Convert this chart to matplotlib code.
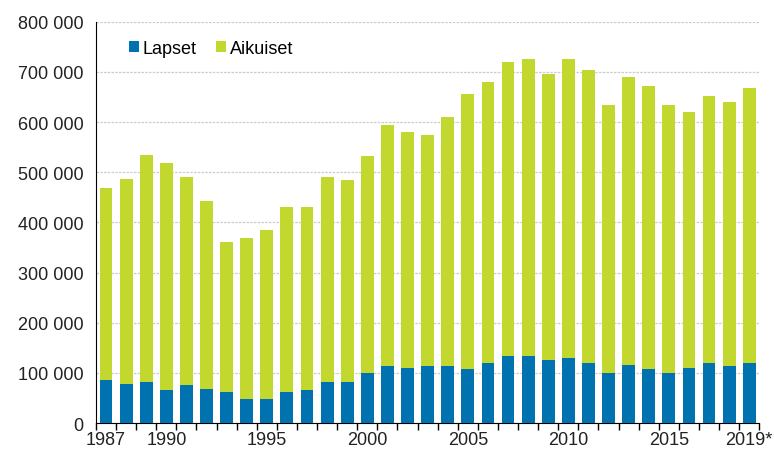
import matplotlib.pyplot as plt
import numpy as np
from matplotlib.ticker import FuncFormatter, FixedLocator

plt.rcParams['font.family'] = ['Liberation Sans', 'DejaVu Sans']

years = [str(y) for y in range(1987, 2019)] + ['2019*']
lapset = [85000, 78000, 82000, 65000, 75000, 68000, 62000, 48000, 48000, 62000,
          65000, 82000, 82000, 100000, 114000, 110000, 114000, 114000, 107000, 120000,
          133000, 133000, 126000, 130000, 120000, 100000, 116000, 107000, 100000, 110000,
          120000, 114000, 120000]
totals = [468000, 487000, 535000, 519000, 490000, 442000, 362000, 368000, 384000, 430000,
          430000, 490000, 484000, 532000, 595000, 580000, 574000, 611000, 656000, 679000,
          720000, 726000, 695000, 726000, 704000, 634000, 689000, 673000, 634000, 621000,
          653000, 640000, 669000]
aikuiset = [t - c for t, c in zip(totals, lapset)]
shown_labels = ['1987', '1990', '1995', '2000', '2005', '2010', '2015', '2019*']

blue = '#0072b0'
green = '#c3d82e'

fig = plt.figure(figsize=(7.74, 4.56), dpi=100)
ax = fig.add_axes([0.124, 0.070, 0.857, 0.880])

x = np.arange(len(years))
ax.bar(x, lapset, width=0.64, color=blue, label='Lapset', zorder=3)
ax.bar(x, aikuiset, width=0.64, bottom=lapset, color=green, label='Aikuiset', zorder=3)

ax.set_xlim(-0.5, len(years) - 0.5)
ax.set_ylim(0, 800000)
ax.set_yticks(np.arange(0, 800001, 100000))
ax.yaxis.set_major_formatter(FuncFormatter(lambda v, p: f'{int(v):,}'.replace(',', ' ')))
ax.tick_params(axis='y', length=0, labelsize=13, colors='#222222', pad=9)

# labels under selected bars, ticks at category boundaries
pos = [years.index(l) for l in shown_labels]
ax.set_xticks(pos)
ax.set_xticklabels(shown_labels)
ax.xaxis.set_minor_locator(FixedLocator(np.arange(-0.5, len(years), 1.0)))
ax.tick_params(axis='x', which='major', length=0, labelsize=13, colors='#222222', pad=6)
ax.tick_params(axis='x', which='minor', length=5, width=1, color='black', direction='out')

ax.grid(axis='y', color='#cccccc', linestyle=(0, (2, 1)), linewidth=0.9, zorder=0)
for s in ['top', 'right']:
    ax.spines[s].set_visible(False)
ax.spines['left'].set_color('black')
ax.spines['bottom'].set_color('black')

ax.legend(loc='upper left', bbox_to_anchor=(0.025, 0.995), ncol=2, frameon=False,
          fontsize=13, handlelength=0.55, handleheight=0.55, handletextpad=0.2,
          columnspacing=1.1)

fig.savefig('out.png', dpi=100)
